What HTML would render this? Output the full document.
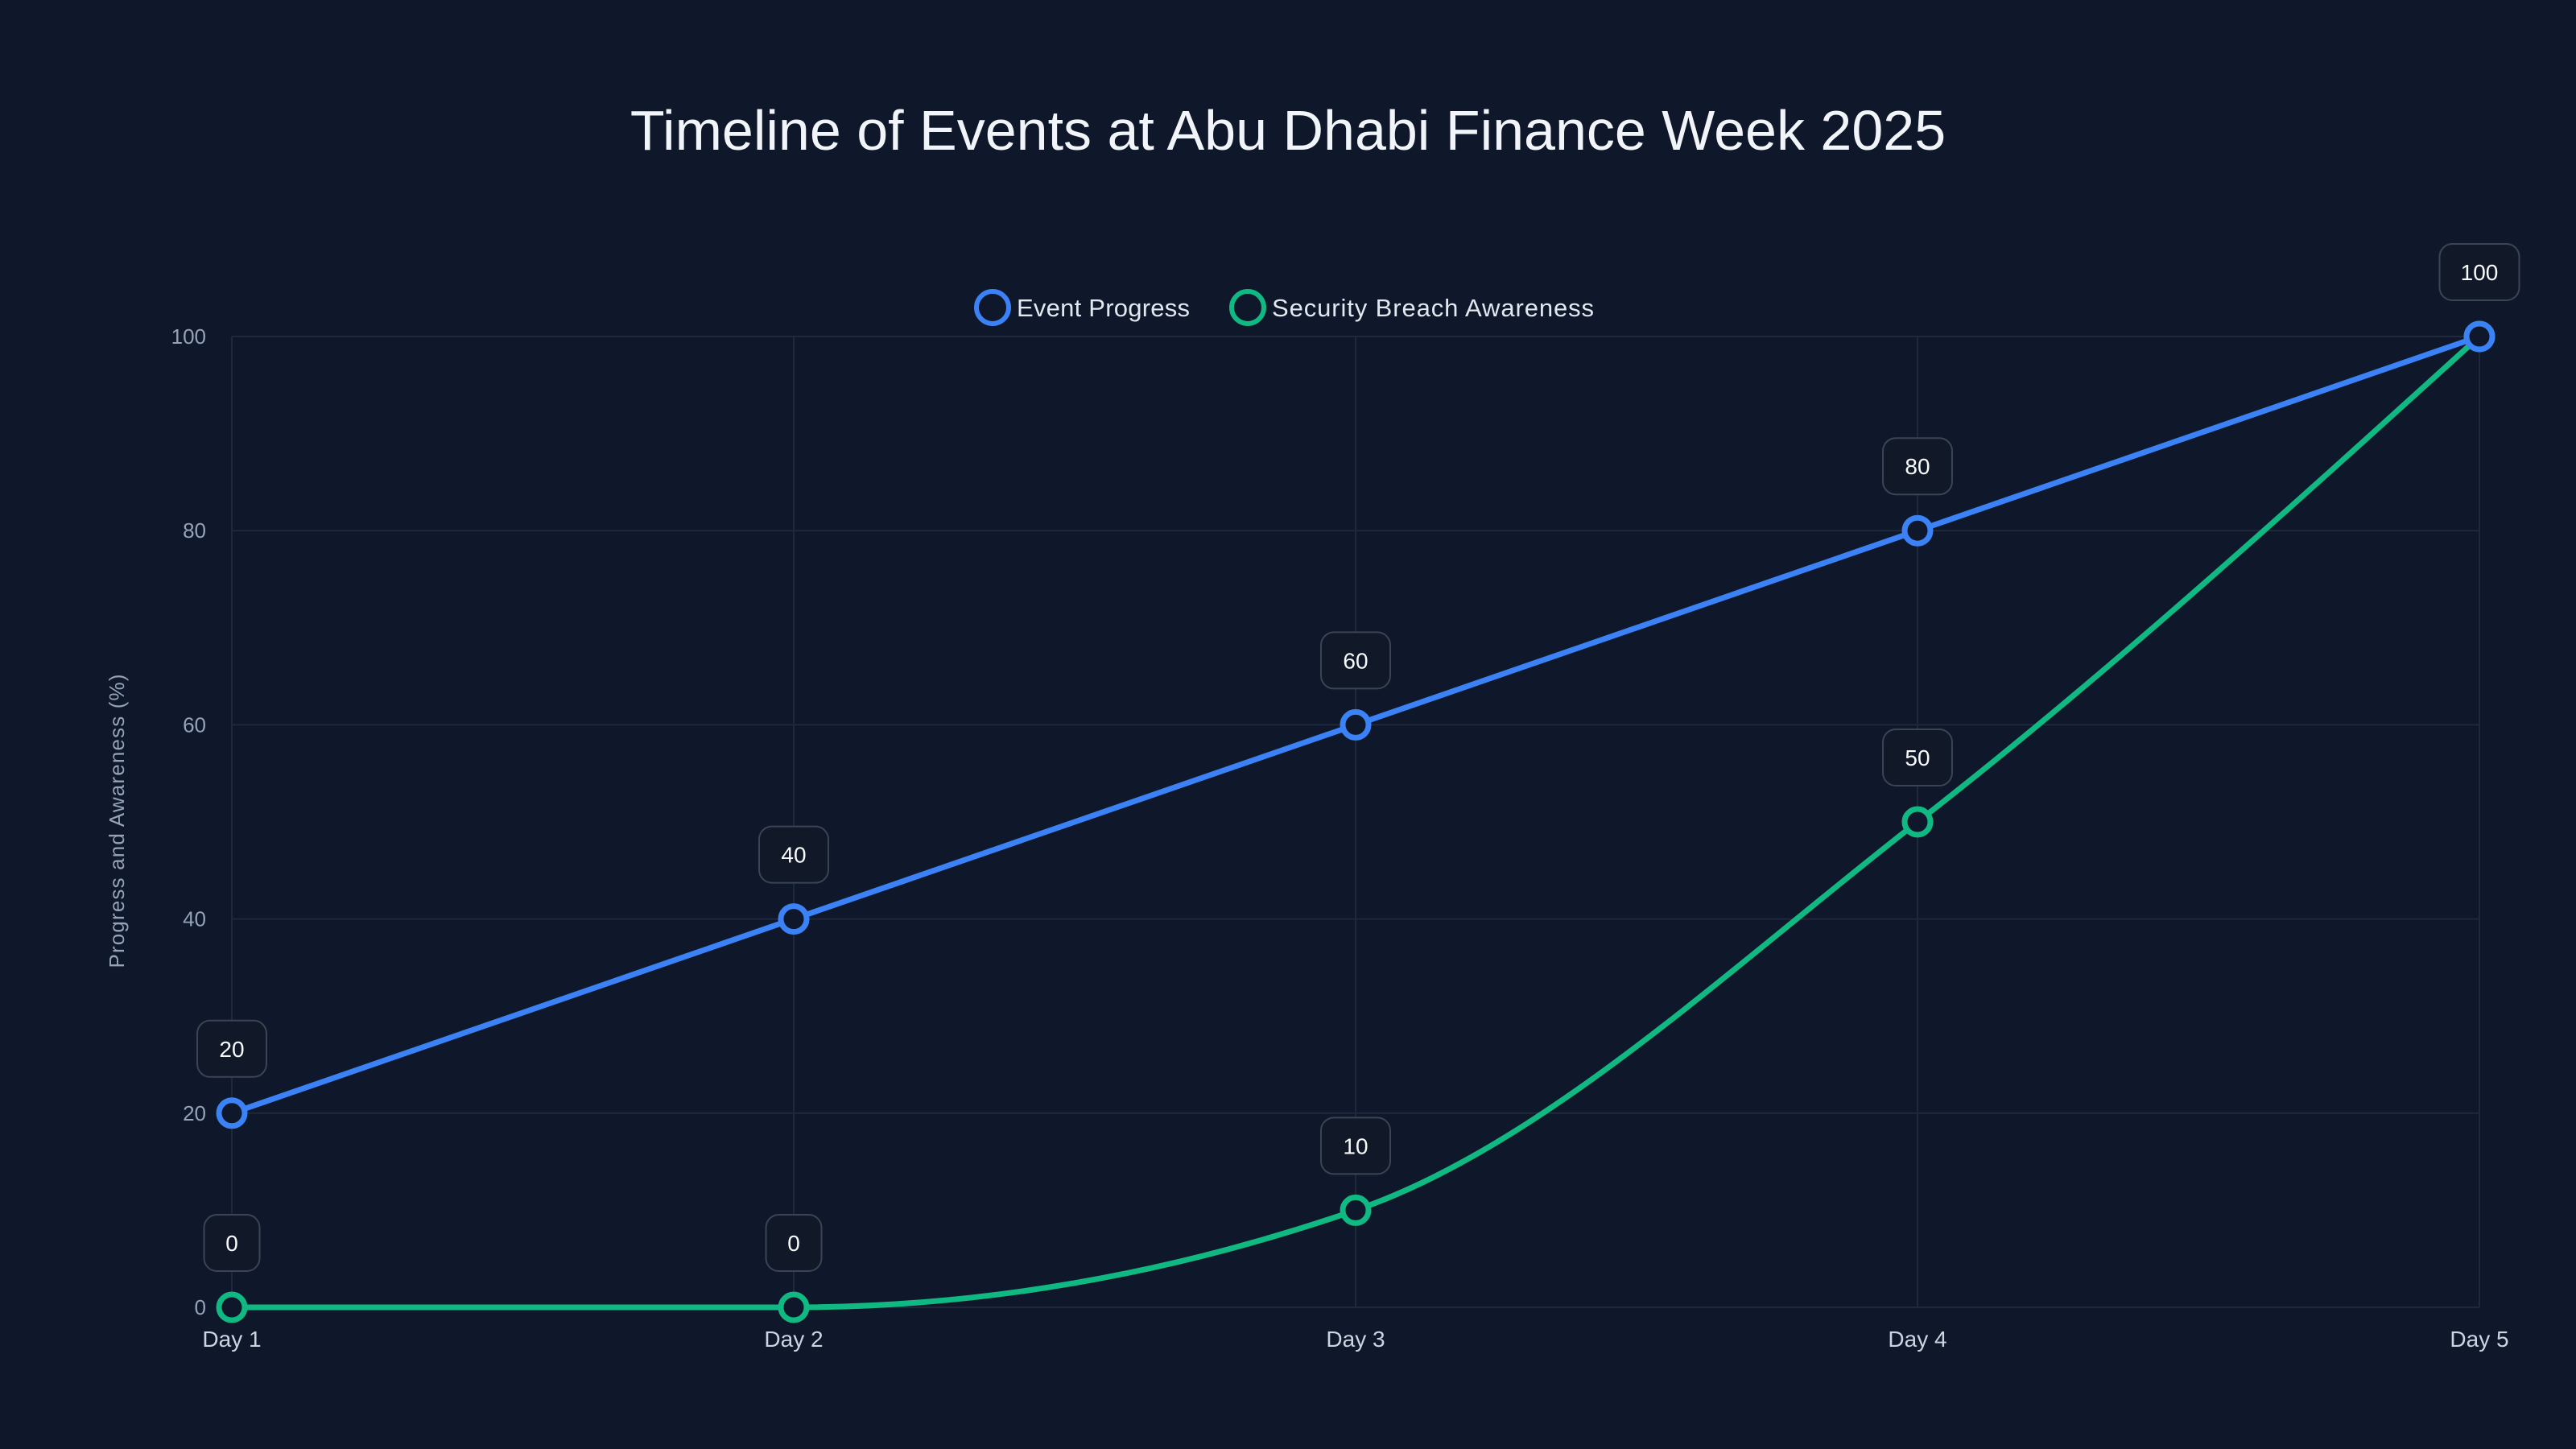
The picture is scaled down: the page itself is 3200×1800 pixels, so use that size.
<!DOCTYPE html>
<html><head><meta charset="utf-8"><style>
html,body{margin:0;padding:0;background:#0f172a;}
svg{display:block;font-family:"Liberation Sans",sans-serif;}
</style></head><body>
<svg id="chart" width="3200" height="1800" viewBox="0 0 3200 1800">
<rect width="3200" height="1800" fill="#0f172a"/>
<text x="1600" y="186" text-anchor="middle" fill="#f1f5f9" font-size="70">Timeline of Events at Abu Dhabi Finance Week 2025</text>
<g>
<g>
<circle cx="1233" cy="382" r="20" fill="none" stroke="#3b82f6" stroke-width="6"/>
<text x="1263" y="393" fill="#e2e8f0" font-size="31" textLength="215">Event Progress</text></g>
<g>
<circle cx="1550" cy="382" r="20" fill="none" stroke="#10b981" stroke-width="6"/>
<text x="1580" y="393" fill="#e2e8f0" font-size="31" textLength="400">Security Breach Awareness</text></g>
</g>
<text transform="translate(154,1020) rotate(-90)" text-anchor="middle" fill="#94a3b8" font-size="26" textLength="365">Progress and Awareness (%)</text>
<g id="grid"></g><g id="axes"></g><g id="series"></g><g id="labels"></g>
</svg>
<script>
const categories=["Day 1","Day 2","Day 3","Day 4","Day 5"];
const progressValues=[20,40,60,80,100];
const awarenessValues=[0,0,10,50,100];
const yTicks=[0,20,40,60,80,100];
const NS="http://www.w3.org/2000/svg";
const x0=288,x1=3080,y0=1624,y1=418;
function xs(i){return x0+(x1-x0)*i/(categories.length-1);}
function ys(v){return y0-(y0-y1)*v/100;}
function mk(tag,attrs,parent){const e=document.createElementNS(NS,tag);for(const k in attrs)e.setAttribute(k,attrs[k]);parent.appendChild(e);return e;}
const grid=document.getElementById('grid'),axes=document.getElementById('axes'),series=document.getElementById('series'),labels=document.getElementById('labels');
yTicks.forEach(t=>{
 const l=mk('line',{x1:x0,x2:x1,y1:ys(t),y2:ys(t),stroke:'#1e293b','stroke-width':2},grid);
 
 
 const tx=mk('text',{x:256,y:ys(t)+9,'text-anchor':'end',fill:'#94a3b8','font-size':26},axes);
 tx.textContent=t;
 
 
});
categories.forEach((c,i)=>{
 const l=mk('line',{x1:xs(i),x2:xs(i),y1:y1,y2:y0,stroke:'#1e293b','stroke-width':2},grid);
 
 
 const tx=mk('text',{x:xs(i),y:1673,'text-anchor':'middle',fill:'#cbd5e1','font-size':28},axes);
 tx.textContent=c;
 
 
});
function monotone(pts){
 const n=pts.length,d=[],m=[];
 for(let i=0;i<n-1;i++)d.push((pts[i+1][1]-pts[i][1])/(pts[i+1][0]-pts[i][0]));
 for(let i=0;i<n;i++){
  if(i==0)m.push(d[0]);else if(i==n-1)m.push(d[n-2]);
  else{const a=d[i-1],b=d[i];if(a*b<=0)m.push(0);else{const h0=pts[i][0]-pts[i-1][0],h1=pts[i+1][0]-pts[i][0];const p=(a*h1+b*h0)/(h0+h1);m.push((Math.sign(a)+Math.sign(b))*Math.min(Math.abs(a),Math.abs(b),0.5*Math.abs(p)));}}
 }
 if(n>2){m[0]=(3*d[0]-m[1])/2; m[n-1]=(3*d[n-2]-m[n-2])/2;}
 let s='M'+pts[0][0]+','+pts[0][1];
 for(let i=0;i<n-1;i++){const h=(pts[i+1][0]-pts[i][0])/3;
  s+=' C'+(pts[i][0]+h)+','+(pts[i][1]+h*m[i])+' '+(pts[i+1][0]-h)+','+(pts[i+1][1]-h*m[i+1])+' '+pts[i+1][0]+','+pts[i+1][1];}
 return s;
}
function draw(vals,color,name,smooth){
 const pts=vals.map((v,i)=>[xs(i),ys(v)]);
 const d=smooth?monotone(pts):'M'+pts.map(p=>p.join(',')).join(' L');
 const p=mk('path',{d:d,fill:'none',stroke:color,'stroke-width':7,'stroke-linejoin':'round'},series);
 
 
 vals.forEach((v,i)=>{
  const c=mk('circle',{cx:xs(i),cy:ys(v),r:16,fill:'#0f172a',stroke:color,'stroke-width':7},series);
  
  
  const len=String(v).length;
  const w=len>2?99:(len>1?86:69);
  const g=mk('g',{},labels);
  
  
  mk('rect',{x:xs(i)-w/2,y:ys(v)-115,width:w,height:70,rx:16,fill:'#111827',stroke:'#3b4455','stroke-width':2},g);
  const t=mk('text',{x:xs(i),y:ys(v)-70,'text-anchor':'middle',fill:'#f8fafc','font-size':28},g);
  t.textContent=v;
 });
}
draw(awarenessValues,'#10b981','security-breach-awareness',true);
draw(progressValues,'#3b82f6','event-progress',false);
</script>
</body></html>
